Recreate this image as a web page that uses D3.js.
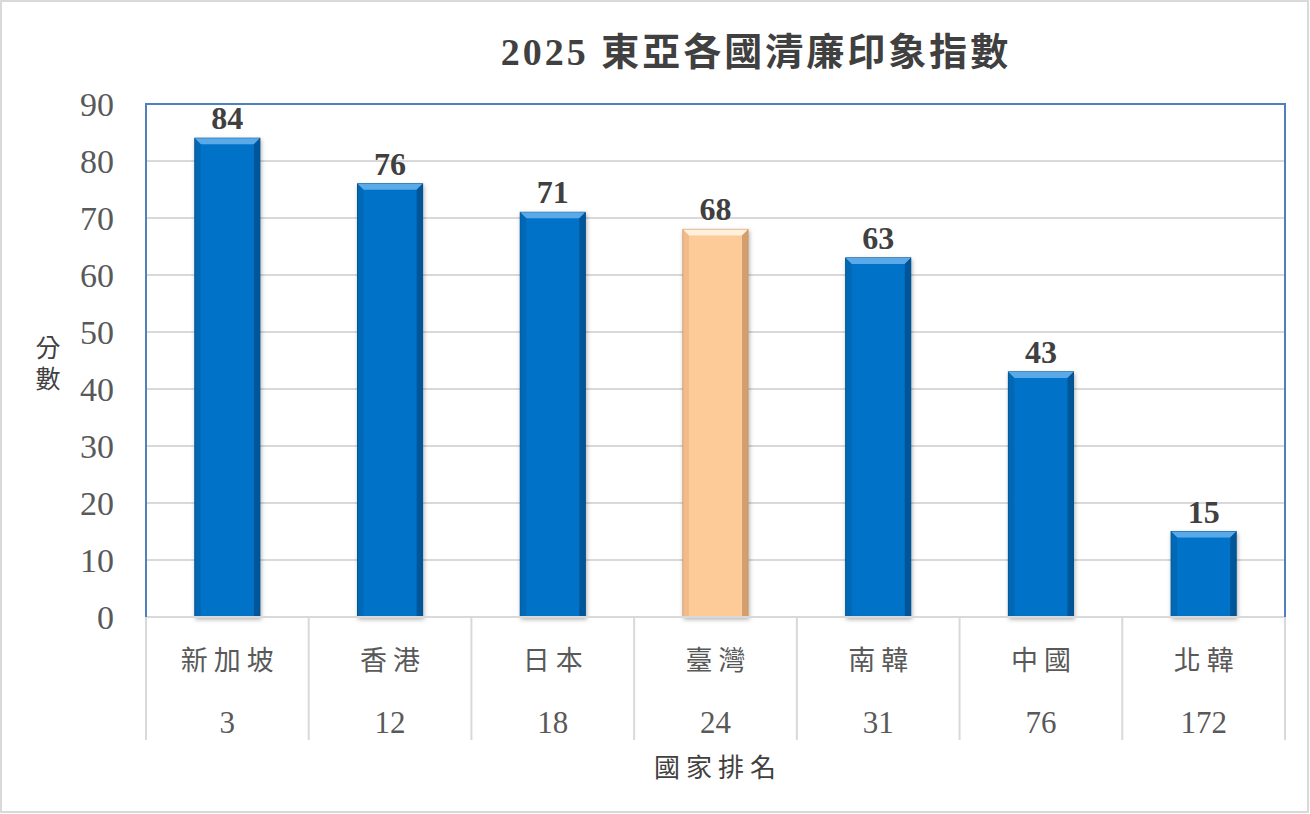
<!DOCTYPE html>
<html>
<head>
<meta charset="utf-8">
<script src="https://cdn.jsdelivr.net/npm/d3@7"></script>
<style>
  body { margin: 0; background: #fff; }
  svg text { font-family: "Liberation Serif", "Times New Roman", "Noto Sans CJK TC", serif; }
</style>
</head>
<body>
<svg id="chart" width="1310" height="814"></svg>
<script>
// data
const countries = ["新加坡", "香港", "日本", "臺灣", "南韓", "中國", "北韓"];
const ranks = ["3", "12", "18", "24", "31", "76", "172"];
const scores = [84, 76, 71, 68, 63, 43, 15];
const highlight = ["臺灣"];
const yTicks = [0, 10, 20, 30, 40, 50, 60, 70, 80, 90];

const svg = d3.select("#chart");
const W = 1310, H = 814;
const plot = {left: 146, top: 104, right: 1285, bottom: 617};

// outer frame
svg.append("rect")
  .attr("x", 1).attr("y", 1).attr("width", W - 3).attr("height", H - 3)
  .attr("fill", "#fff").attr("stroke", "#d9d9d9").attr("stroke-width", 2);

const x = d3.scaleBand().domain(countries).range([plot.left, plot.right]).padding(0);
const y = d3.scaleLinear().domain([0, 90]).range([plot.bottom, plot.top]);

// gridlines
svg.append("g")
  .selectAll("line")
  .data(yTicks.filter(d => d > 0 && d < 90))
  .enter().append("line")
  .attr("x1", plot.left).attr("x2", plot.right)
  .attr("y1", d => y(d)).attr("y2", d => y(d))
  .attr("stroke", "#d9d9d9").attr("stroke-width", 2);

// y tick labels
svg.append("g")
  .selectAll("text")
  .data(yTicks)
  .enter().append("text")
  .attr("x", 114).attr("y", d => y(d))
  .attr("dy", "0.35em")
  .attr("text-anchor", "end")
  .attr("font-size", 34)
  .attr("fill", "#595959")
  .text(d => d);

// y axis title, vertical
const yTitle = svg.append("text")
  .attr("text-anchor", "middle")
  .attr("font-size", 25)
  .attr("fill", "#404040");
["分", "數"].forEach((c, i) => {
  yTitle.append("tspan").attr("x", 48).attr("y", 357 + i * 31).text(c);
});

// table under the axis
const table = svg.append("g");
table.selectAll("line.sep")
  .data(countries.map(d => x(d)).concat([plot.right]))
  .enter().append("line")
  .attr("class", "sep")
  .attr("x1", d => d).attr("x2", d => d)
  .attr("y1", plot.bottom).attr("y2", 740)
  .attr("stroke", "#d9d9d9").attr("stroke-width", 2);

table.selectAll("text.name")
  .data(countries)
  .enter().append("text")
  .attr("class", "name")
  .attr("x", d => x(d) + x.bandwidth() / 2 + 3)
  .attr("y", 661).attr("dy", "0.35em")
  .attr("text-anchor", "middle")
  .attr("font-size", 27)
  .attr("letter-spacing", 6)
  .attr("fill", "#595959")
  .text(d => d);

table.selectAll("text.rank")
  .data(countries)
  .enter().append("text")
  .attr("class", "rank")
  .attr("x", d => x(d) + x.bandwidth() / 2)
  .attr("y", 722).attr("dy", "0.35em")
  .attr("text-anchor", "middle")
  .attr("font-size", 31)
  .attr("fill", "#595959")
  .text((d, i) => ranks[i]);

svg.append("text")
  .attr("x", 718).attr("y", 768).attr("dy", "0.35em")
  .attr("text-anchor", "middle")
  .attr("font-size", 26)
  .attr("letter-spacing", 6)
  .attr("fill", "#404040")
  .text("國家排名");

// bars with a bevel look
const defs = svg.append("defs");
defs.append("filter").attr("id", "shadow")
  .attr("x", "-20%").attr("y", "-20%").attr("width", "140%").attr("height", "140%")
  .append("feDropShadow")
  .attr("dx", 1).attr("dy", 2).attr("stdDeviation", 2)
  .attr("flood-color", "#000").attr("flood-opacity", 0.3);

const palette = {
  normal: {main: "#0673c8", light: "#5aa9e8", dark: "#03508c", side: "#0560a8"},
  hi: {main: "#fdcb98", light: "#fff0dc", dark: "#c99464", side: "#e9b27e"}
};

const bw = x.bandwidth() * 0.4;
const bev = 6;

const bars = svg.append("g")
  .selectAll("g")
  .data(countries)
  .enter().append("g")
  .attr("filter", "url(#shadow)");

bars.each(function(d, i) {
  const g = d3.select(this);
  const c = highlight.includes(d) ? palette.hi : palette.normal;
  const x0 = x(d) + (x.bandwidth() - bw) / 2, x1 = x0 + bw;
  const y0 = y(scores[i]), y1 = y(0);
  g.append("rect").attr("x", x0).attr("y", y0).attr("width", bw).attr("height", y1 - y0)
    .attr("fill", c.main).attr("stroke", c.dark).attr("stroke-width", 1);
  // top bevel
  g.append("polygon")
    .attr("points", [[x0, y0], [x1, y0], [x1 - bev, y0 + bev], [x0 + bev, y0 + bev]].join(" "))
    .attr("fill", c.light);
  // left bevel
  g.append("polygon")
    .attr("points", [[x0, y0], [x0 + bev, y0 + bev], [x0 + bev, y1], [x0, y1]].join(" "))
    .attr("fill", c.side).attr("opacity", 0.6);
  // right bevel
  g.append("polygon")
    .attr("points", [[x1, y0], [x1 - bev, y0 + bev], [x1 - bev, y1], [x1, y1]].join(" "))
    .attr("fill", c.dark).attr("opacity", 0.8);
});

// value labels
svg.append("g")
  .selectAll("text")
  .data(countries)
  .enter().append("text")
  .attr("x", d => x(d) + x.bandwidth() / 2)
  .attr("y", (d, i) => y(scores[i]) - 9)
  .attr("text-anchor", "middle")
  .attr("font-size", 32)
  .attr("font-weight", "bold")
  .attr("fill", "#404040")
  .text((d, i) => scores[i]);

// axis line at zero
svg.append("line")
  .attr("x1", plot.left).attr("x2", plot.right)
  .attr("y1", plot.bottom).attr("y2", plot.bottom)
  .attr("stroke", "#d9d9d9").attr("stroke-width", 2);

// plot area border (blue on left, top, right)
svg.append("path")
  .attr("d", `M${plot.left},${plot.bottom}V${plot.top}H${plot.right}V${plot.bottom}`)
  .attr("fill", "none").attr("stroke", "#4f81bd").attr("stroke-width", 2);

// title
svg.append("text")
  .attr("x", 756).attr("y", 52).attr("dy", "0.35em")
  .attr("text-anchor", "middle")
  .attr("font-size", 38)
  .attr("font-weight", "bold")
  .attr("letter-spacing", 3)
  .attr("fill", "#404040")
  .text("2025 東亞各國清廉印象指數");
</script>
</body>
</html>
